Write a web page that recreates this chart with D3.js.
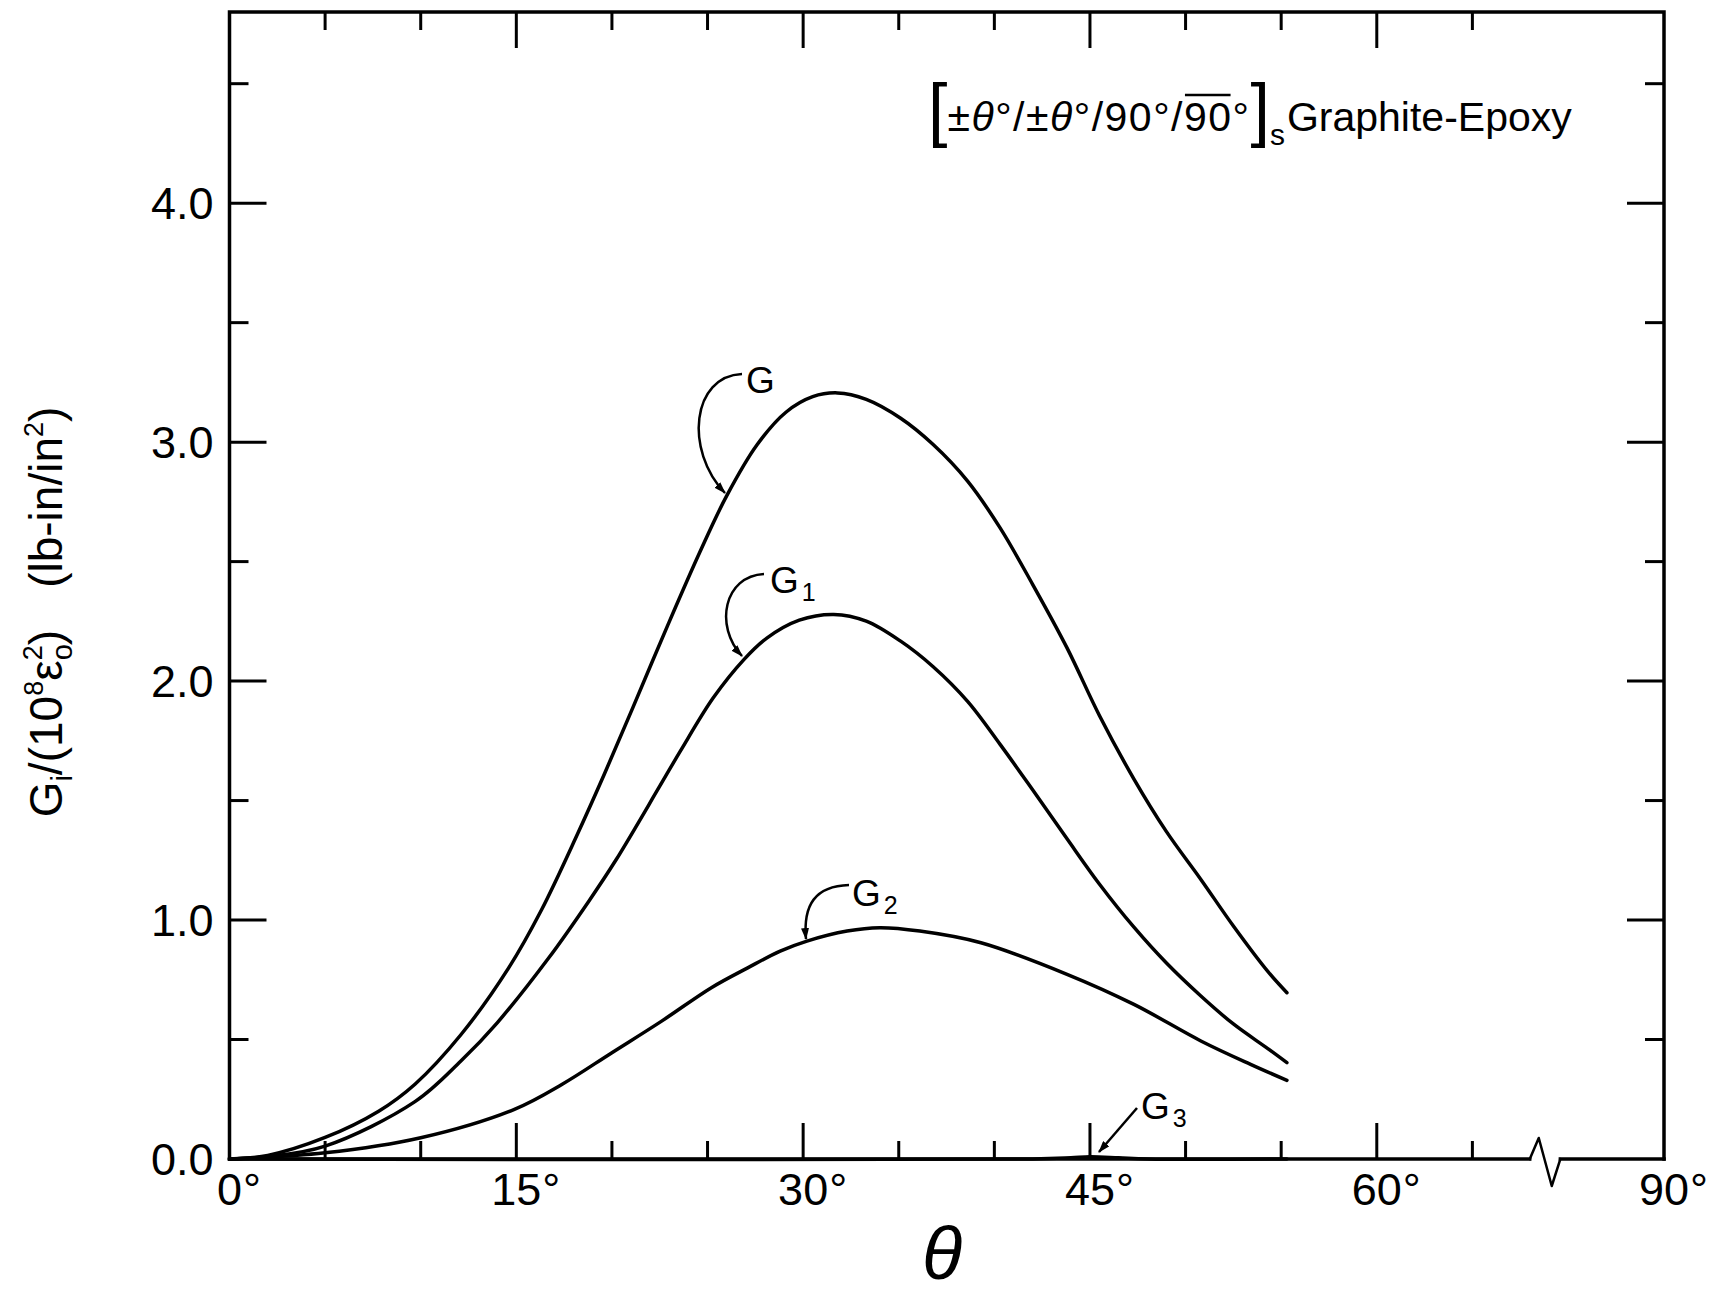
<!DOCTYPE html>
<html><head><meta charset="utf-8">
<script src="https://cdn.jsdelivr.net/npm/d3@7"></script>
<style>
body{margin:0;background:#fff;}
svg{display:block;}
text{font-family:"Liberation Sans",Arial,sans-serif;fill:#000;}
</style>
</head><body>
<svg id="c" width="1718" height="1295"></svg>
<script>
// ---- data ----
const gTheta   = [0, 2, 5, 7.8, 9.7, 12.1, 14.6, 16.3, 18.2, 19.6, 21.1, 22.9, 24.6, 26.0, 27.6, 29.1, 30.5, 31.8, 33.3, 35.1, 36.8, 38.6, 40.3, 42.0, 43.8, 45.5, 47.3, 49.0, 50.8, 52.5, 54.3, 55.3];
const gValues  = [0, 0.015, 0.09, 0.2, 0.313, 0.52, 0.8, 1.04, 1.36, 1.61, 1.89, 2.23, 2.54, 2.775, 2.99, 3.125, 3.19, 3.206, 3.179, 3.10, 2.99, 2.837, 2.641, 2.405, 2.139, 1.855, 1.59, 1.37, 1.17, 0.975, 0.785, 0.696];
const g1Theta  = [0, 2, 5, 9.7, 12.1, 14.0, 16.7, 18.8, 20.2, 22.5, 23.6, 25.3, 26.9, 28.1, 29.8, 31.6, 33.3, 35.1, 36.8, 38.6, 40.3, 42.0, 43.8, 45.5, 47.3, 49.0, 50.8, 52.5, 54.3, 55.3];
const g1Values = [0, 0.01, 0.054, 0.24, 0.41, 0.57, 0.842, 1.08, 1.25, 1.56, 1.71, 1.93, 2.09, 2.18, 2.255, 2.279, 2.251, 2.167, 2.06, 1.915, 1.735, 1.545, 1.34, 1.15, 0.97, 0.82, 0.682, 0.565, 0.462, 0.403];
const g2Theta  = [0, 5, 10, 14.9, 17.4, 20.0, 22.6, 25.2, 27.1, 28.8, 30.2, 32.3, 34.0, 36.1, 39.3, 43.8, 47.3, 50.8, 53.4, 55.3];
const g2Values = [0, 0.026, 0.089, 0.208, 0.313, 0.445, 0.577, 0.717, 0.80, 0.87, 0.912, 0.954, 0.968, 0.954, 0.905, 0.773, 0.647, 0.494, 0.396, 0.329];
const g3Theta  = [0, 42, 44, 45, 46.5, 48, 55.3];
const g3Values = [0, 0, 0.005, 0.009, 0.005, 0, 0];

const xTickLabels = [0, 15, 30, 45, 60, 90];
const yTickLabels = [0, 1, 2, 3, 4];
const xTicks = [5, 10, 15, 20, 25, 30, 35, 40, 45, 50, 55, 60, 65];
const yTicks = [0.5, 1, 1.5, 2, 2.5, 3, 3.5, 4, 4.5];
const axisBreak = [68, 69.6];   // broken axis between these theta values

// ---- scales ----
const svg = d3.select("#c");
const x = d3.scaleLinear().domain([0, 70, 90]).range([229.5, 1568, 1664]);
const y = d3.scaleLinear().domain([0, 4.8]).range([1159, 12]);
const x0 = x(0), x1 = x(90), y0 = y(0), y1 = y(4.8);

// ---- frame ----
const frame = svg.append("g").attr("fill", "none").attr("stroke", "#000").attr("stroke-width", 3.5)
  .attr("stroke-linejoin", "miter").attr("stroke-linecap", "square");
frame.append("path").attr("d", `M${x0},${y0} L${x0},${y1} L${x1},${y1} L${x1},${y0}`);
const bx0 = x(axisBreak[0]), bx1 = x(axisBreak[1]);
frame.append("path").attr("d", `M${x0},${y0} L${bx0},${y0}`);
frame.append("path").attr("d", `M${bx1},${y0} L${x1},${y0}`);
frame.append("path").attr("stroke-width", 2.5).attr("stroke-linejoin", "round")
  .attr("d", `M${bx0},${y0} L${bx0 + 9},${y0 - 21} L${bx0 + 22},${y0 + 27} L${bx1},${y0}`);

// ---- ticks ----
const tk = svg.append("g").attr("stroke", "#000").attr("stroke-width", 3);
const xlen = t => (t % 15 === 0 ? 36 : 18);
const ylen = t => (Number.isInteger(t) ? 37 : 19);
tk.selectAll(".tb").data(xTicks).join("line")
  .attr("x1", d => x(d)).attr("x2", d => x(d)).attr("y1", y0).attr("y2", d => y0 - xlen(d));
tk.selectAll(".tt").data(xTicks).join("line")
  .attr("x1", d => x(d)).attr("x2", d => x(d)).attr("y1", y1).attr("y2", d => y1 + xlen(d));
tk.selectAll(".tl").data(yTicks).join("line")
  .attr("x1", x0).attr("x2", d => x0 + ylen(d)).attr("y1", d => y(d)).attr("y2", d => y(d));
tk.selectAll(".tr").data(yTicks).join("line")
  .attr("x1", x1).attr("x2", d => x1 - ylen(d)).attr("y1", d => y(d)).attr("y2", d => y(d));

// ---- tick labels ----
const fmt = d3.format(".1f");
svg.append("g").selectAll("text").data(yTickLabels).join("text")
  .attr("x", x0 - 16).attr("y", d => y(d)).attr("dy", "0.36em")
  .attr("text-anchor", "end").attr("font-size", 45).text(d => fmt(d));

const xl = svg.append("g");
xTickLabels.forEach(d => {
  const t = xl.append("text").attr("x", x(d)).attr("y", y0 + 46)
    .attr("text-anchor", "middle").attr("font-size", 45).text(d);
  const w = t.node().getComputedTextLength();
  xl.append("text").attr("x", x(d) + w / 2 + 1).attr("y", y0 + 46)
    .attr("font-size", 45).text("°");
});

// ---- axis titles ----
svg.append("text").attr("x", 942).attr("y", 1279).attr("text-anchor", "middle")
  .attr("font-size", 74).attr("font-style", "italic").text("θ");

const yt = svg.append("text").attr("transform", "translate(62,612) rotate(-90)")
  .attr("text-anchor", "middle").attr("font-size", 46);
yt.append("tspan").text("G");
yt.append("tspan").attr("font-size", 29).attr("dy", 10).text("i");
yt.append("tspan").attr("dy", -10).text("/(10");
yt.append("tspan").attr("font-size", 27).attr("dy", -19).text("8");
yt.append("tspan").attr("dy", 19).text("ε");
yt.append("tspan").attr("font-size", 29).attr("dy", 10).text("o");
yt.append("tspan").attr("font-size", 27).attr("dx", -16).attr("dy", -30).text("2");
yt.append("tspan").attr("dy", 20).text(")");
yt.append("tspan").attr("dx", 42).text("(lb-in/in");
yt.append("tspan").attr("font-size", 27).attr("dy", -19).text("2");
yt.append("tspan").attr("dy", 19).text(")");

// ---- title ----
const ty = 131;
const tt = svg.append("text").attr("x", 928).attr("y", ty).attr("font-size", 41);
tt.append("tspan").attr("font-size", 70).attr("dy", 2).text("[");
const inner = tt.append("tspan").attr("dy", -2).attr("letter-spacing", 1.5);
inner.append("tspan").text("±");
inner.append("tspan").attr("font-style", "italic").text("θ");
inner.append("tspan").text("°/±");
inner.append("tspan").attr("font-style", "italic").text("θ");
inner.append("tspan").text("°/90°/");
inner.append("tspan").text("90°");
tt.append("tspan").attr("font-size", 70).attr("dy", 2).text("]");
tt.append("tspan").attr("font-size", 30).attr("dy", 12).text("s");
tt.append("tspan").attr("dy", -14).attr("dx", 2).text("Graphite-Epoxy");
const tn = tt.node();
const a = tn.getStartPositionOfChar(13).x, b = tn.getEndPositionOfChar(14).x;
svg.append("line").attr("x1", a + 1).attr("x2", b - 2).attr("y1", ty - 36).attr("y2", ty - 36)
  .attr("stroke", "#000").attr("stroke-width", 2.5);

// ---- curves ----
const line = d3.line().x(d => x(d[0])).y(d => y(d[1])).curve(d3.curveCatmullRom.alpha(0.5));
const series = [
  [gTheta, gValues], [g1Theta, g1Values], [g2Theta, g2Values], [g3Theta, g3Values]
];
svg.append("g").selectAll("path").data(series).join("path")
  .attr("fill", "none").attr("stroke", "#000").attr("stroke-width", 3.5).attr("stroke-linecap", "round")
  .attr("d", s => line(s[0].map((t, i) => [t, s[1][i]])));

// ---- annotations ----
svg.append("defs").append("marker").attr("id", "ah")
  .attr("viewBox", "0 0 12 8").attr("refX", 11).attr("refY", 4)
  .attr("markerWidth", 12).attr("markerHeight", 8).attr("markerUnits", "userSpaceOnUse")
  .attr("orient", "auto")
  .append("path").attr("d", "M0,0 L12,4 L0,8 Z").attr("fill", "#000");

const ann = svg.append("g");
const arrows = [
  "M742,374 C692,376 684,450 725,493",
  "M764,574 C724,576 714,626 742,656",
  "M849,885 C815,886 803,905 806,939",
  "M1137,1108 L1099,1152"
];
ann.selectAll("path").data(arrows).join("path").attr("d", d => d)
  .attr("fill", "none").attr("stroke", "#000").attr("stroke-width", 2.5).attr("marker-end", "url(#ah)");

const labels = [
  {x: 746, y: 393, t: "G", s: ""},
  {x: 770, y: 593, t: "G", s: "1"},
  {x: 852, y: 906, t: "G", s: "2"},
  {x: 1141, y: 1119, t: "G", s: "3"}
];
labels.forEach(l => {
  const t = ann.append("text").attr("x", l.x).attr("y", l.y).attr("font-size", 37).text(l.t);
  if (l.s) t.append("tspan").attr("font-size", 25).attr("dx", 3).attr("dy", 8).text(l.s);
});
</script>
</body></html>
